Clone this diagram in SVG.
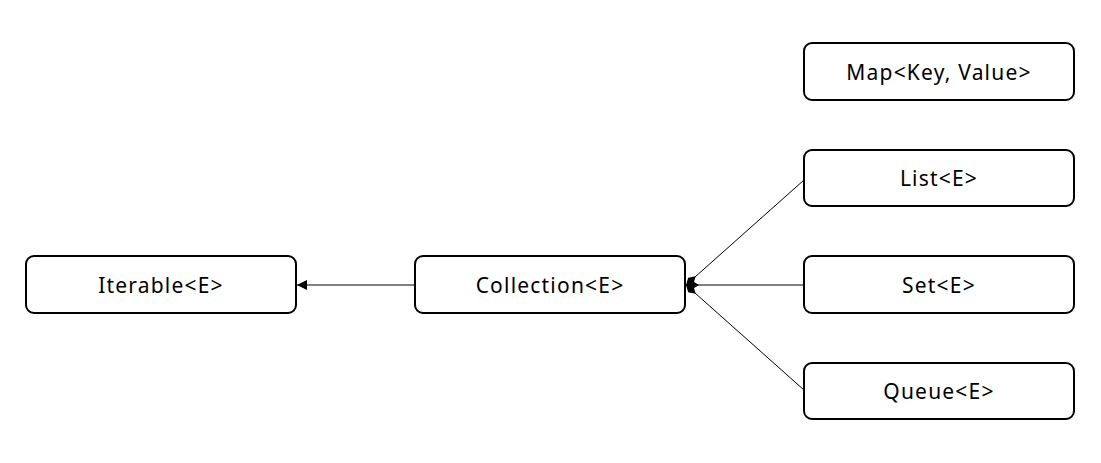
<svg xmlns="http://www.w3.org/2000/svg" width="1101" height="463" viewBox="0 0 1101 463">
<style>
.box{fill:#fff;stroke:#000;stroke-width:2}
.lbl{font-family:"Noto Sans","Noto Sans CJK KR",sans-serif;font-size:21px;letter-spacing:1.2px;fill:#000;text-anchor:middle;dominant-baseline:central}
.conn{stroke:#000;stroke-width:1;fill:none}
</style>
<defs>
<marker id="dia" markerUnits="userSpaceOnUse" markerWidth="14" markerHeight="10" refX="0" refY="5" orient="auto" viewBox="0 0 14 10">
<path d="M0,5 L6.5,1 L13,5 L6.5,9 Z" fill="#000"/>
</marker>
<marker id="arr" markerUnits="userSpaceOnUse" markerWidth="12" markerHeight="12" refX="11" refY="6" orient="auto" viewBox="0 0 12 12">
<path d="M1,1 L11,6 L1,11 Z" fill="#000"/>
</marker>
</defs>
<rect width="1101" height="463" fill="#fff"/>
<g id="connectors">
<line class="conn" x1="415" y1="285" x2="297" y2="285" marker-end="url(#arr)"/>
<line class="conn" x1="686" y1="285" x2="804" y2="180" marker-start="url(#dia)"/>
<line class="conn" x1="686" y1="285" x2="804" y2="285" marker-start="url(#dia)"/>
<line class="conn" x1="686" y1="285" x2="804" y2="390" marker-start="url(#dia)"/>
</g>
<g id="iterable"><rect class="box" x="26" y="256" width="270" height="57" rx="8"/><text class="lbl" x="161" y="285">Iterable&lt;E&gt;</text></g>
<g id="collection"><rect class="box" x="415" y="256" width="270" height="57" rx="8"/><text class="lbl" x="550" y="285">Collection&lt;E&gt;</text></g>
<g id="map"><rect class="box" x="804" y="43" width="270" height="57" rx="8"/><text class="lbl" x="939" y="72">Map&lt;Key, Value&gt;</text></g>
<g id="list"><rect class="box" x="804" y="150" width="270" height="56" rx="8"/><text class="lbl" x="939" y="178">List&lt;E&gt;</text></g>
<g id="set"><rect class="box" x="804" y="256" width="270" height="57" rx="8"/><text class="lbl" x="939" y="285">Set&lt;E&gt;</text></g>
<g id="queue"><rect class="box" x="804" y="363" width="270" height="56" rx="8"/><text class="lbl" x="939" y="391">Queue&lt;E&gt;</text></g>
</svg>
